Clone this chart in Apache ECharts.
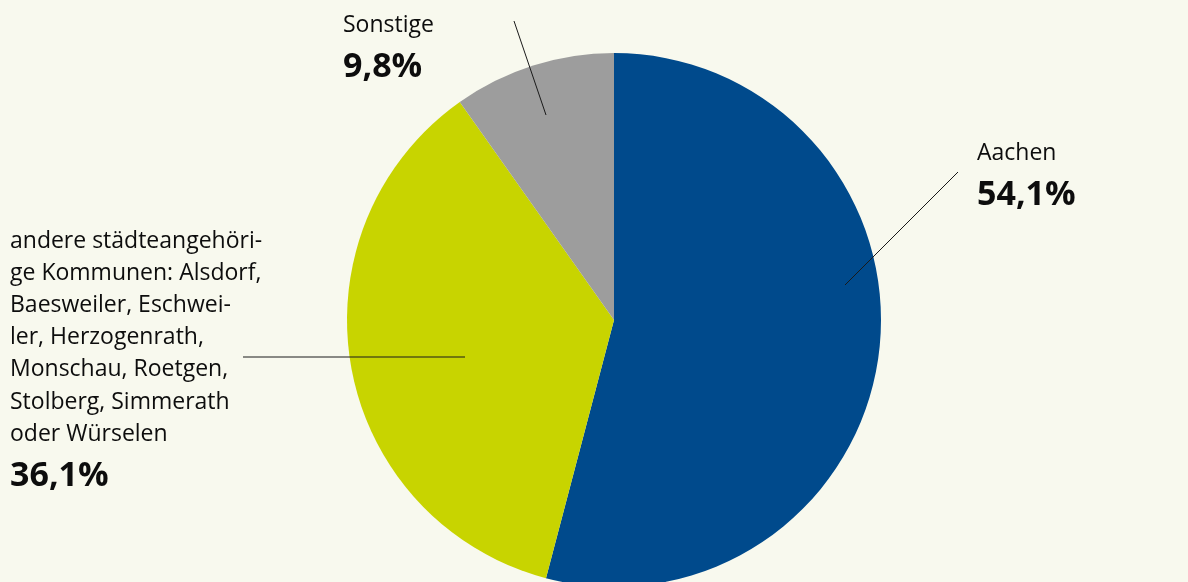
<!DOCTYPE html>
<html>
<head>
<meta charset="utf-8">
<script src="https://cdn.jsdelivr.net/npm/echarts@6/dist/echarts.min.js"></script>
<style>
html,body{margin:0;padding:0;background:#f8f9ee;}
#c{width:1188px;height:582px;}
</style>
</head>
<body>
<div id="c"></div>
<script>
const categories = ['Aachen', 'andere städteangehöri-\nge Kommunen: Alsdorf,\nBaesweiler, Eschwei-\nler, Herzogenrath,\nMonschau, Roetgen,\nStolberg, Simmerath\noder Würselen', 'Sonstige'];
const values = [54.1, 36.1, 9.8];
const colors = ['#004a8c', '#c8d400', '#9d9d9d'];

// label placement (layout only)
const labelPos = [
  {x: 977, y: 137, line: [[845, 285], [958, 172]]},
  {x: 10, y: 225, line: [[465, 357], [243, 357]]},
  {x: 343, y: 9, line: [[546, 115], [514, 21]]}
];

const pieData = categories.map((c, i) => ({name: c, value: values[i], itemStyle: {color: colors[i]}}));
const base = {
  type: 'pie',
  center: [614, 320],
  radius: 267,
  startAngle: 90,
  clockwise: true,
  silent: true
};

const chart = echarts.init(document.getElementById('c'), null, {renderer: 'canvas'});
chart.setOption({
  backgroundColor: '#f8f9ee',
  animation: false,
  series: [
    Object.assign({}, base, {
      z: 2,
      data: pieData,
      label: {show: false},
      labelLine: {show: false}
    }),
    Object.assign({}, base, {
      z: 5,
      data: categories.map((c, i) => ({name: c, value: values[i], itemStyle: {color: 'rgba(0,0,0,0)'}})),
      label: {
        show: true,
        position: 'outside',
        formatter: p => '{n|' + p.name + '}\n{v|' + p.value.toFixed(1).replace('.', ',') + '%}',
        rich: {
          n: {fontSize: 23, lineHeight: 32.2, color: '#0d0d0d', fontFamily: 'Open Sans'},
          v: {fontSize: 34, lineHeight: 52, fontWeight: 'bold', color: '#0d0d0d', fontFamily: 'Open Sans'}
        }
      },
      labelLine: {show: true, lineStyle: {color: '#1a1a1a', width: 1}},
      labelLayout: function (params) {
        const lp = labelPos[params.dataIndex];
        return {x: lp.x, y: lp.y, align: 'left', verticalAlign: 'top', labelLinePoints: lp.line};
      }
    })
  ]
});
</script>
</body>
</html>
